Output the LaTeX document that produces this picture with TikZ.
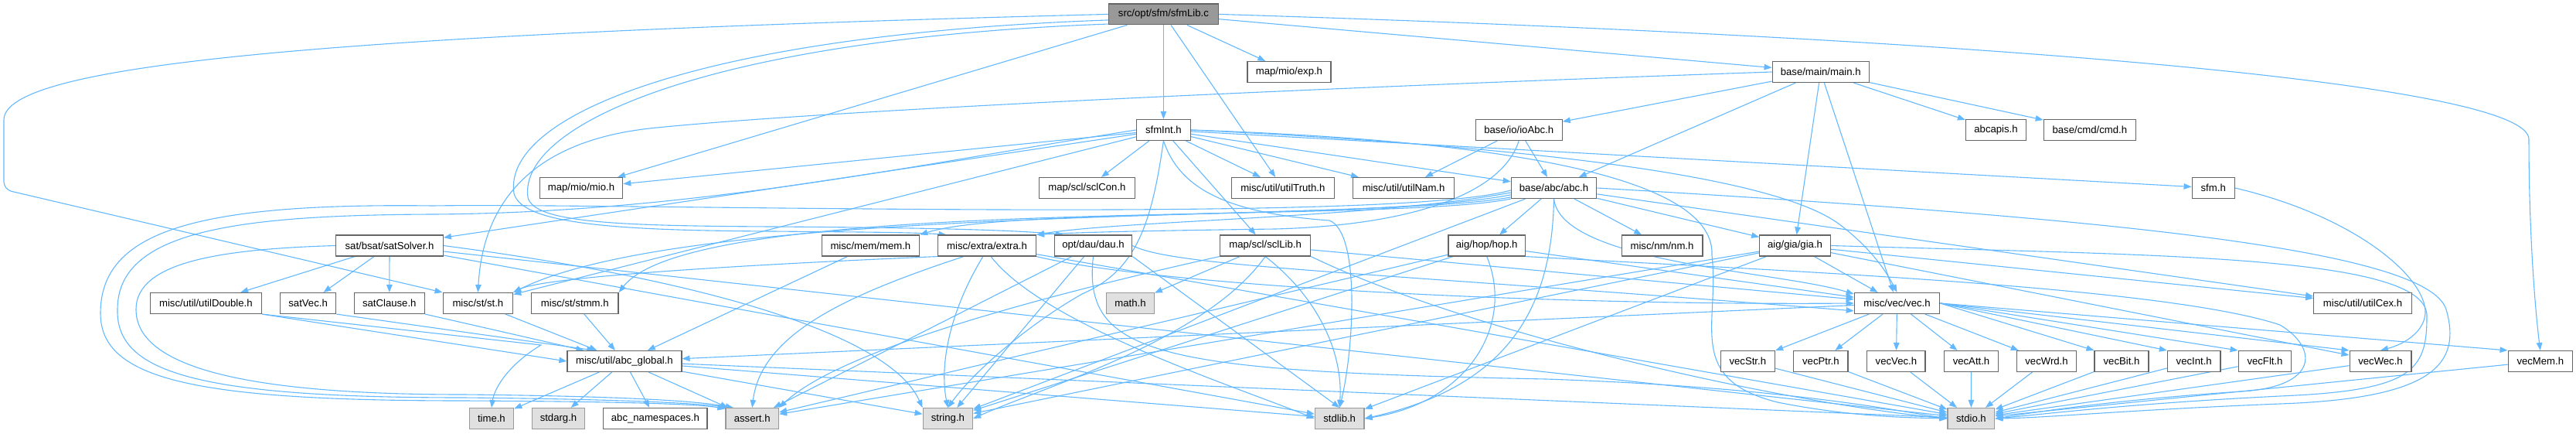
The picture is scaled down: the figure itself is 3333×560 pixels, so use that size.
\documentclass[tikz,border=0pt]{standalone}
\usepackage{fontspec}
\setmainfont{Liberation Sans}
\usetikzlibrary{arrows.meta}
\definecolor{edgec}{HTML}{63B8FF}
\definecolor{bordc}{HTML}{666666}
\definecolor{sysb}{HTML}{999999}
\definecolor{sysf}{HTML}{E0E0E0}
\definecolor{rootf}{HTML}{999999}
\newcommand{\nodefont}{\fontsize{13.15pt}{15pt}\selectfont}
\pgfdeclarelayer{bg}
\pgfsetlayers{bg,main}
\begin{document}
\begin{tikzpicture}[x=1pt,y=-1pt,
  nd/.style={draw=bordc, fill=white, line width=1.3pt, minimum height=26.8pt, inner sep=0pt, font=\nodefont, text=black},
  sys/.style={nd, draw=sysb, fill=sysf},
  root/.style={nd, fill=rootf},
  conn/.style={draw=edgec, line width=1.1pt, -{Triangle[length=10pt,width=7.5pt]}}]
\useasboundingbox (0,0) rectangle (3333,560);
% row 0-2
\node[root, minimum width=142pt] (lib) at (1505.4,18.4) {src/opt/sfm/sfmLib.c};
\node[nd, minimum width=108pt] (exp) at (1667.9,93) {map/mio/exp.h};
\node[nd, minimum width=125pt] (main) at (2355.7,93) {base/main/main.h};
\node[nd, minimum width=70pt] (int) at (1505.4,168) {sfmInt.h};
\node[nd, minimum width=112pt] (ioabc) at (1965.2,168) {base/io/ioAbc.h};
\node[nd, minimum width=78pt] (abcapis) at (2582.5,168) {abcapis.h};
\node[nd, minimum width=119pt] (cmd) at (2703.8,168) {base/cmd/cmd.h};
% row 3
\node[nd, minimum width=107.5pt] (mio) at (752,243) {map/mio/mio.h};
\node[nd, minimum width=123.6pt] (sclcon) at (1406.4,243) {map/scl/sclCon.h};
\node[nd, minimum width=133.2pt] (truth) at (1659.8,243) {misc/util/utilTruth.h};
\node[nd, minimum width=130.7pt] (nam) at (1816.1,243) {misc/util/utilNam.h};
\node[nd, minimum width=110.3pt] (abc) at (2010.5,243) {base/abc/abc.h};
\node[nd, minimum width=55pt] (sfm) at (2863.7,243) {sfm.h};
% row 4
\node[nd, minimum width=138.6pt] (sat) at (504,317.5) {sat/bsat/satSolver.h};
\node[nd, minimum width=126.4pt] (mem) at (1126.4,317.5) {misc/mem/mem.h};
\node[nd, minimum width=126.8pt] (extra) at (1277,317.5) {misc/extra/extra.h};
\node[nd, minimum width=100.3pt] (dau) at (1414.5,317.5) {opt/dau/dau.h};
\node[nd, minimum width=117pt] (scllib) at (1637.1,317.5) {map/scl/sclLib.h};
\node[nd, minimum width=99.7pt] (hop) at (1923.7,317.5) {aig/hop/hop.h};
\node[nd, minimum width=104.7pt] (nm) at (2150.5,317.5) {misc/nm/nm.h};
\node[nd, minimum width=91.4pt] (gia) at (2322.5,317.5) {aig/gia/gia.h};
% row 5
\node[nd, minimum width=143.6pt] (udbl) at (266.4,392) {misc/util/utilDouble.h};
\node[nd, minimum width=72pt] (satvec) at (398.6,392) {satVec.h};
\node[nd, minimum width=91pt] (satcl) at (503.8,392) {satClause.h};
\node[nd, minimum width=90.4pt] (st) at (618.4,392) {misc/st/st.h};
\node[nd, minimum width=112.5pt] (stmm) at (743.8,392) {misc/st/stmm.h};
\node[sys, minimum width=61.4pt] (math) at (1462.5,392) {math.h};
\node[nd, minimum width=110.3pt] (vec) at (2454.5,392) {misc/vec/vec.h};
\node[nd, minimum width=126.5pt] (cex) at (3057,392) {misc/util/utilCex.h};
% row 6
\node[nd, minimum width=147.9pt] (glob) at (807.9,467) {misc/util/abc\_global.h};
\node[nd, minimum width=70.3pt] (vstr) at (2261.3,467) {vecStr.h};
\node[nd, minimum width=70.4pt] (vptr) at (2355.9,467) {vecPtr.h};
\node[nd, minimum width=75.4pt] (vvec) at (2453.4,467) {vecVec.h};
\node[nd, minimum width=70.3pt] (vatt) at (2550.5,467) {vecAtt.h};
\node[nd, minimum width=76.8pt] (vwrd) at (2648,467) {vecWrd.h};
\node[nd, minimum width=69.8pt] (vbit) at (2745,467) {vecBit.h};
\node[nd, minimum width=68.6pt] (vint) at (2838.7,467) {vecInt.h};
\node[nd, minimum width=68.6pt] (vflt) at (2930.5,467) {vecFlt.h};
\node[nd, minimum width=79.7pt] (vwec) at (3080,467) {vecWec.h};
\node[nd, minimum width=83.3pt] (vmem) at (3286.8,467) {vecMem.h};
% row 7
\node[sys, minimum width=57.5pt] (time) at (635.9,541) {time.h};
\node[sys, minimum width=68.6pt] (stdarg) at (722.5,541) {stdarg.h};
\node[nd, minimum width=134.3pt] (ns) at (847.9,541) {abc\_namespaces.h};
\node[sys, minimum width=68.6pt] (assert) at (973.2,541) {assert.h};
\node[sys, minimum width=64.3pt] (string) at (1226.4,541) {string.h};
\node[sys, minimum width=63.6pt] (stdlib) at (1733.2,541) {stdlib.h};
\node[sys, minimum width=60.7pt] (stdio) at (2550.4,541) {stdio.h};

\begin{pgfonlayer}{bg}
% sfmLib.c
\draw[conn] (lib) -- (int);
\draw[conn, rounded corners=10pt] (lib.west) .. controls (400,45) and (5,85) .. (5,165) -- (5,245) -- (st.north west);
\draw[conn] (lib) -- (mio);
\draw[conn] (lib) -- (exp);
\draw[conn] (lib) -- (truth);
\draw[conn] (lib.186) .. controls (900,45) and (650,150) .. (665,250) .. controls (675,290) and (800,298) .. (1000,299) .. controls (1100,300) and (1180,300) .. (extra.165);
\draw[conn] (lib.190) .. controls (920,50) and (670,160) .. (683,255) .. controls (690,288) and (800,292) .. (1000,293) .. controls (1150,294) and (1300,296) .. (dau.160);
\draw[conn] (lib) -- (main);
\draw[conn] (lib.east) .. controls (2600,50) and (3272,110) .. (3272,180) .. controls (3272,300) and (3280,400) .. (vmem.north);
% sfmInt.h
\draw[conn] (int) -- (sclcon);
\draw[conn] (int) -- (truth);
\draw[conn] (int) -- (nam);
\draw[conn] (int) -- (abc);
\draw[conn] (int) -- (scllib);
\draw[conn] (int.south) .. controls (1525,240) and (1580,275) .. (1720,285) .. controls (1760,300) and (1752,450) .. (stdlib.north);
\draw[conn] (int) -- (sfm);
\draw[conn] (int.east) .. controls (2000,190) and (2300,230) .. (2380,290) .. controls (2420,320) and (2440,350) .. (vec.north);
\draw[conn] (int.east) .. controls (1900,180) and (2220,220) .. (2215,330) .. controls (2225,420) and (2180,490) .. (2300,520) .. controls (2400,540) and (2480,540) .. (stdio.west);
\draw[conn] (int) -- (mio);
\draw[conn] (int) -- (st);
\draw[conn] (int) -- (sat);
\draw[conn] (int.south) .. controls (1490,290) and (1470,350) .. (1400,380) .. controls (1330,420) and (1260,480) .. (string.north);
\draw[conn] (int.west) .. controls (1200,210) and (900,275) .. (560,277) .. controls (300,278) and (152,300) .. (152,400) .. controls (150,480) and (250,514) .. (600,514) .. controls (800,516) and (900,521) .. (assert.155);
% ioAbc.h
\draw[conn] (ioabc) -- (nam);
\draw[conn] (ioabc) -- (abc);
\draw[conn] (ioabc.south) .. controls (1940,260) and (1800,292) .. (1650,296) .. controls (1500,298) and (1400,300) .. (extra.north east);
% main.h
\draw[conn] (main) -- (ioabc);
\draw[conn] (main) -- (abc);
\draw[conn] (main) -- (gia);
\draw[conn] (main) -- (vec);
\draw[conn] (main) -- (abcapis);
\draw[conn] (main) -- (cmd);
\draw[conn] (main.west) .. controls (1800,110) and (1100,140) .. (850,165) .. controls (690,180) and (625,260) .. (st.north);
% abc.h
\draw[conn] (abc.south) .. controls (2020,340) and (2300,350) .. (vec.168);
\draw[conn] (abc) -- (hop);
\draw[conn] (abc) -- (gia);
\draw[conn] (abc) -- (nm);
\draw[conn] (abc) -- (cex);
\draw[conn] (abc.189) .. controls (1780,285) and (1300,268) .. (mem.north east);
\draw[conn] (abc.186) .. controls (1780,282) and (1450,285) .. (extra.north east);
\draw[conn] (abc.192) .. controls (1780,288) and (900,260) .. (st.north east);
\draw[conn] (abc.south west) .. controls (1780,292) and (900,250) .. (stmm.north east);
\draw[conn] (abc.183) .. controls (1800,290) and (800,262) .. (560,266) .. controls (250,262) and (130,300) .. (130,405) .. controls (130,490) and (250,518) .. (600,518) .. controls (800,519) and (900,522) .. (assert.160);
\draw[conn] (abc.east) .. controls (2700,280) and (3140,320) .. (3165,400) .. controls (3185,470) and (3150,515) .. (2950,522) .. controls (2750,530) and (2650,540) .. (stdio.east);
\draw[conn] (abc.south) .. controls (2008,400) and (1950,500) .. (stdlib.east);
\draw[conn] (abc) -- (string);
% sfm.h
\draw[conn] (sfm.east) .. controls (3050,280) and (3140,360) .. (3138,405) .. controls (3136,430) and (3110,445) .. (vwec.north);
% satSolver.h
\draw[conn] (sat) -- (udbl);
\draw[conn] (sat) -- (satvec);
\draw[conn] (sat) -- (satcl);
\draw[conn] (sat) -- (stdlib);
\draw[conn] (sat) -- (stdio);
\draw[conn] (sat.east) .. controls (900,360) and (1150,430) .. (string.north west);
\draw[conn] (sat.west) .. controls (280,322) and (176,340) .. (176,400) .. controls (176,470) and (300,510) .. (600,510) .. controls (800,512) and (900,518) .. (assert.150);
% small sat headers
\draw[conn] (udbl.south east) -- (glob.west);
\draw[conn] (udbl.south east) -- (700,446) .. controls (660,470) and (640,500) .. (time.north);
\draw[conn] (satvec.south east) -- (glob.160);
\draw[conn] (satcl.south east) -- (glob.165);
\draw[conn] (st) -- (glob);
\draw[conn] (stmm) -- (glob);
\draw[conn] (mem) -- (glob);
% extra.h
\draw[conn] (extra.south west) .. controls (900,345) and (700,360) .. (st.north east);
\draw[conn] (extra.south east) .. controls (1500,370) and (2000,395) .. (vec.west);
\draw[conn] (extra) -- (stdio);
\draw[conn] (extra.290) .. controls (1350,420) and (1600,500) .. (stdlib.west);
\draw[conn] (extra.250) .. controls (1230,400) and (1215,470) .. (string.north);
\draw[conn] (extra.205) .. controls (1100,380) and (985,430) .. (assert.north);
% dau.h
\draw[conn] (dau.east) .. controls (1520,345) and (1750,350) .. (vec.190);
\draw[conn] (dau.south) .. controls (1400,460) and (1500,480) .. (2000,490) .. controls (2300,500) and (2450,530) .. (stdio.west);
\draw[conn] (dau.south east) -- (stdlib.north);
\draw[conn] (dau) -- (string);
\draw[conn] (dau) -- (assert);
% sclLib.h
\draw[conn] (scllib) -- (math);
\draw[conn] (scllib) -- (vec);
\draw[conn] (scllib.south east) .. controls (1900,430) and (2300,520) .. (stdio.west);
\draw[conn] (scllib.south) .. controls (1700,380) and (1738,450) .. (stdlib.north);
\draw[conn] (scllib.south) .. controls (1560,440) and (1350,500) .. (string.east);
\draw[conn] (scllib.south west) .. controls (1450,360) and (1100,440) .. (assert.north east);
% hop.h
\draw[conn] (hop) -- (vec);
\draw[conn] (hop.south east) .. controls (2300,350) and (2800,370) .. (2950,420) .. controls (3000,450) and (3000,500) .. (2900,506) .. controls (2750,516) and (2650,530) .. (stdio.east);
\draw[conn] (hop.south) .. controls (1960,420) and (1900,520) .. (stdlib.east);
\draw[conn] (hop) -- (string);
\draw[conn] (hop) -- (assert);
% gia.h
\draw[conn] (gia) -- (vec);
\draw[conn] (gia) -- (vwec);
\draw[conn] (gia) -- (cex);
\draw[conn] (gia.east) .. controls (2800,330) and (3145,330) .. (3140,410) .. controls (3140,480) and (3120,505) .. (2950,512) .. controls (2750,522) and (2650,535) .. (stdio.east);
\draw[conn] (gia) -- (stdlib);
\draw[conn] (gia) -- (string);
\draw[conn] (gia) -- (assert);
% vec.h
\draw[conn] (vec) -- (glob);
\draw[conn] (vec) -- (vstr);
\draw[conn] (vec) -- (vptr);
\draw[conn] (vec) -- (vvec);
\draw[conn] (vec) -- (vatt);
\draw[conn] (vec) -- (vwrd);
\draw[conn] (vec.east) -- (vbit.north west);
\draw[conn] (vec.east) -- (vint.north west);
\draw[conn] (vec.east) -- (vflt.north west);
\draw[conn] (vec.east) -- (vwec.north west);
\draw[conn] (vec.east) -- (vmem.north west);
% vec* -> stdio
\draw[conn] (vstr) -- (stdio);
\draw[conn] (vptr) -- (stdio);
\draw[conn] (vvec) -- (stdio);
\draw[conn] (vatt) -- (stdio);
\draw[conn] (vwrd) -- (stdio);
\draw[conn] (vbit) -- (stdio);
\draw[conn] (vint) -- (stdio);
\draw[conn] (vflt) -- (stdio);
\draw[conn] (vwec) -- (stdio);
\draw[conn] (vmem) -- (stdio);
% abc_global.h
\draw[conn] (glob) -- (time);
\draw[conn] (glob) -- (stdarg);
\draw[conn] (glob) -- (ns);
\draw[conn] (glob) -- (assert);
\draw[conn] (glob) -- (string);
\draw[conn] (glob) -- (stdlib);
\draw[conn] (glob) -- (stdio);
\end{pgfonlayer}
\end{tikzpicture}
\end{document}
